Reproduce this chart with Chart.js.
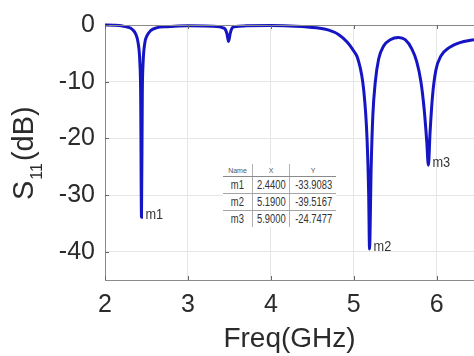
<!DOCTYPE html>
<html lang="en">
<head>
    <meta charset="UTF-8">
    <title>S11 vs Frequency</title>
    <script src="https://cdn.jsdelivr.net/npm/chart.js"></script>
    <style>
        html, body {
            margin: 0;
            padding: 0;
            background: #ffffff;
        }
        #wrap {
            position: relative;
            width: 474px;
            height: 356px;
            overflow: hidden;
        }
        #markerTable {
            position: absolute;
            left: 223px;
            top: 164px;
            width: 111px;
            table-layout: fixed;
            border-collapse: collapse;
            background: #ffffff;
            font-family: 'Liberation Sans', Arial, sans-serif;
            color: #333;
        }
        #markerTable th {
            font-weight: normal;
            font-size: 7px;
            height: 12px;
            padding: 0;
            color: #555;
            border-bottom: 1px solid #8a8a8a;
        }
        #markerTable td {
            font-size: 12px;
            height: 16px;
            padding: 0;
            text-align: center;
            white-space: nowrap;
            border-bottom: 1px solid #a5a5a5;
        }
        #markerTable span {
            display: inline-block;
            transform: scaleX(0.78);
        }
        #markerTable tr:last-child td { border-bottom: none; }
        #markerTable th + th, #markerTable td + td {
            border-left: 1px solid #b0b0b0;
        }
    </style>
</head>
<body>
<div id="wrap">
    <canvas id="s11Chart" width="474" height="356"></canvas>
    <table id="markerTable">
        <thead><tr><th style="width:29px">Name</th><th style="width:36px">X</th><th style="width:46px">Y</th></tr></thead>
        <tbody id="markerBody"></tbody>
    </table>
</div>

<script>
    // curve (GHz, dB)
    const freq = [2.00, 2.10, 2.20, 2.28, 2.33, 2.37, 2.40, 2.42, 2.43, 2.44, 2.45, 2.46, 2.48, 2.51, 2.55, 2.62, 2.75,
                  3.00, 3.30, 3.44, 3.47, 3.49, 3.51, 3.53, 3.56, 3.70, 4.00, 4.30, 4.55, 4.70, 4.82, 4.92, 5.00, 5.05,
                  5.12, 5.16, 5.18, 5.19, 5.21, 5.23, 5.26, 5.30, 5.36, 5.44, 5.54, 5.62, 5.70, 5.76, 5.81, 5.85, 5.88,
                  5.90, 5.92, 5.95, 5.99, 6.05, 6.15, 6.28, 6.45];
    const s11 = [0, -0.05, -0.15, -0.4, -0.8, -1.6, -3.2, -6.5, -12, -33.9083, -12, -6.5, -3.2, -1.8, -1.0, -0.5, -0.3,
                 -0.15, -0.2, -0.6, -1.5, -2.9, -1.5, -0.6, -0.3, -0.15, -0.1, -0.2, -0.5, -0.9, -1.7, -3.0, -4.6, -6.0,
                 -11.5, -20, -30, -39.5167, -25, -16, -10, -6, -3.7, -2.6, -2.2, -2.6, -4.2, -6.5, -10, -15, -20.5,
                 -24.7477, -19, -12.5, -8, -5.5, -4, -3.1, -2.6];

    const markerNames = ['m1', 'm2', 'm3'];
    const markerX = [2.44, 5.19, 5.90];
    const markerY = [-33.9083, -39.5167, -24.7477];

    const xTicks = [2, 3, 4, 5, 6];
    const yTicks = [0, -10, -20, -30, -40];

    const textColor = '#2b2b2b';
    const tickFont = { family: "'Liberation Sans', Arial, sans-serif", size: 25 };

    // marker table
    let body = document.getElementById('markerBody');
    markerNames.forEach((name, i) => {
        body.innerHTML += `<tr><td><span>${name}</span></td><td><span>${markerX[i].toFixed(4)}</span></td><td><span>${markerY[i].toFixed(4)}</span></td></tr>`;
    });

    const extras = {
        id: 'extras',
        afterDraw(chart) {
            const ctx = chart.ctx;
            const area = chart.chartArea;
            const xs = chart.scales.x, ys = chart.scales.y;
            ctx.save();

            // top box line
            ctx.strokeStyle = '#8a8a8a';
            ctx.lineWidth = 1;
            ctx.beginPath();
            ctx.moveTo(area.left, area.top + 0.5);
            ctx.lineTo(area.right, area.top + 0.5);
            ctx.stroke();

            // small inward ticks
            ctx.strokeStyle = '#666';
            ctx.beginPath();
            xTicks.forEach(v => {
                let px = Math.round(xs.getPixelForValue(v)) + 0.5;
                ctx.moveTo(px, area.bottom); ctx.lineTo(px, area.bottom - 4);
                ctx.moveTo(px, area.top); ctx.lineTo(px, area.top + 4);
            });
            yTicks.forEach(v => {
                let py = Math.round(ys.getPixelForValue(v)) + 0.5;
                ctx.moveTo(area.left, py); ctx.lineTo(area.left + 4, py);
            });
            ctx.stroke();

            // marker labels
            ctx.fillStyle = '#333';
            ctx.textAlign = 'left';
            ctx.textBaseline = 'alphabetic';
            ctx.font = "15px 'Liberation Sans', sans-serif";
            markerNames.forEach((name, i) => {
                let px = xs.getPixelForValue(markerX[i]);
                let py = ys.getPixelForValue(markerY[i]);
                ctx.save();
                ctx.translate(px + 4, py + 2);
                ctx.scale(0.85, 1);
                ctx.fillText(name, 0, 0);
                ctx.restore();
            });

            // y title with subscript
            ctx.translate(33, 200);
            ctx.rotate(-Math.PI / 2);
            ctx.fillStyle = textColor;
            ctx.font = "29px 'Liberation Sans', Arial, sans-serif";
            ctx.fillText('S', 0, 0);
            let w1 = ctx.measureText('S').width;
            ctx.font = "16px 'Liberation Sans', Arial, sans-serif";
            ctx.fillText('11', w1 + 1, 9);
            let w2 = ctx.measureText('11').width;
            ctx.font = "29px 'Liberation Sans', Arial, sans-serif";
            ctx.fillText('(dB)', w1 + w2 + 3, 0);
            ctx.restore();
        }
    };

    const ctx = document.getElementById('s11Chart').getContext('2d');
    let s11Chart = new Chart(ctx, {
        type: 'scatter',
        data: {
            datasets: [{
                data: freq.map((f, i) => ({ x: f, y: s11[i] })),
                showLine: true,
                borderColor: '#1515c4',
                borderWidth: 3,
                pointRadius: 0,
                cubicInterpolationMode: 'monotone',
                clip: 4
            }]
        },
        options: {
            responsive: false,
            animation: false,
            layout: { padding: { top: 17, left: 0, right: 0, bottom: 0 } },
            plugins: {
                legend: { display: false },
                tooltip: { enabled: false }
            },
            scales: {
                x: {
                    type: 'linear',
                    min: 2,
                    max: 6.45,
                    afterBuildTicks: s => { s.ticks = xTicks.map(v => ({ value: v })); },
                    afterFit: s => { s.height = 76; },
                    ticks: { color: textColor, font: tickFont, padding: 10, maxRotation: 0 },
                    grid: { color: '#e6e6e6', drawTicks: false },
                    border: { color: '#8a8a8a' },
                    title: {
                        display: true,
                        text: 'Freq(GHz)',
                        color: textColor,
                        font: { family: "'Liberation Sans', Arial, sans-serif", size: 28 },
                        padding: { top: 0, bottom: 0 }
                    }
                },
                y: {
                    min: -45,
                    max: 0,
                    afterBuildTicks: s => { s.ticks = yTicks.map(v => ({ value: v })); },
                    afterFit: s => { s.width = 105; },
                    ticks: { color: textColor, font: tickFont, padding: 10 },
                    grid: { color: '#e6e6e6', drawTicks: false },
                    border: { color: '#8a8a8a' }
                }
            }
        },
        plugins: [extras]
    });
</script>
</body>
</html>
